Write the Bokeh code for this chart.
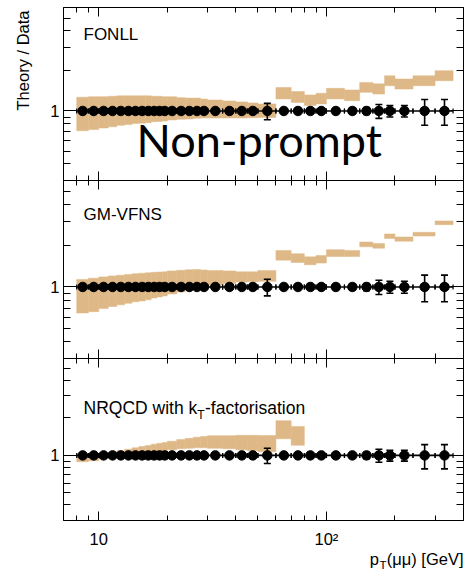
import math
from bokeh.plotting import figure
from bokeh.layouts import column, row
from bokeh.models import Range1d, FixedTicker, LogAxis, Label
from bokeh.embed import file_html
from bokeh.resources import INLINE

# ---------------- data ----------------
bin_lo = [8, 9, 10, 11, 12, 13, 14, 15, 16, 17, 18, 19, 20, 22, 24, 26, 28, 30, 35, 40, 45, 50,
          60, 70, 80, 90, 100, 120, 140, 160, 180, 200, 240, 300]
bin_hi = [9, 10, 11, 12, 13, 14, 15, 16, 17, 18, 19, 20, 22, 24, 26, 28, 30, 35, 40, 45, 50, 60,
          70, 80, 90, 100, 120, 140, 160, 180, 200, 240, 300, 360]
pt_x = [8.5, 9.5, 10.5, 11.5, 12.5, 13.5, 14.5, 15.5, 16.5, 17.5, 18.5, 19.5, 21, 23, 25, 27, 29,
        32.5, 37.5, 42.5, 47.5, 55, 65, 75, 85, 95, 110, 130, 150, 170, 190, 220, 270, 330]
data_ratio = [1.0, 1.0, 1.0, 1.0, 1.0, 1.0, 1.0, 1.0, 1.0, 1.0, 1.0, 1.0, 1.0, 1.0, 1.0, 1.0, 1.0,
              1.0, 1.0, 1.0, 1.0, 1.0, 1.0, 1.0, 1.0, 1.0, 1.0, 1.0, 1.0, 1.0, 1.0, 1.0, 1.0, 1.0]
data_err = [0.02, 0.02, 0.02, 0.02, 0.02, 0.02, 0.02, 0.02, 0.02, 0.02, 0.02, 0.02, 0.02, 0.02,
            0.02, 0.02, 0.02, 0.03, 0.03, 0.03, 0.04, 0.14, 0.03, 0.03, 0.03, 0.03, 0.04, 0.05,
            0.06, 0.12, 0.10, 0.10, 0.22, 0.22]

fonll_hi = [1.27, 1.28, 1.28, 1.29, 1.30, 1.30, 1.30, 1.30, 1.30, 1.29, 1.29, 1.28, 1.28, 1.26,
            1.25, 1.25, 1.23, 1.21, 1.19, 1.17, 1.15, 1.13,
            1.50, 1.40, 1.32, 1.36, 1.48, 1.44, 1.64, 1.60, 1.84, 1.74, 1.84, 2.01]
fonll_lo = [0.71, 0.725, 0.745, 0.76, 0.78, 0.79, 0.805, 0.81, 0.815, 0.83, 0.835, 0.84, 0.855,
            0.865, 0.87, 0.88, 0.885, 0.885, 0.885, 0.885, 0.89, 0.895,
            1.23, 1.16, 1.10, 1.13, 1.23, 1.195, 1.38, 1.34, 1.55, 1.46, 1.55, 1.69]

gm_hi = [1.135, 1.16, 1.185, 1.205, 1.22, 1.235, 1.25, 1.26, 1.27, 1.28, 1.285, 1.29, 1.31, 1.325,
         1.335, 1.34, 1.33, 1.32, 1.31, 1.29, 1.29, 1.32,
         1.85, 1.75, 1.66, 1.70, 1.87, 1.85, 2.13, 2.08, 2.44, 2.32, 2.51, 3.04]
gm_lo = [0.645, 0.66, 0.695, 0.72, 0.74, 0.76, 0.78, 0.79, 0.805, 0.83, 0.845, 0.86, 0.89, 0.92,
         0.95, 0.975, 1.0, 1.03, 1.06, 1.085, 1.09, 1.10,
         1.57, 1.51, 1.455, 1.495, 1.67, 1.67, 1.965, 1.92, 2.26, 2.16, 2.355, 2.855]

kt_hi = [1.02, 1.03, 1.04, 1.06, 1.09, 1.12, 1.15, 1.18, 1.20, 1.23, 1.25, 1.27, 1.30, 1.34,
         1.37, 1.40, 1.42, 1.44, 1.44, 1.45, 1.45, 1.445, 1.90, 1.71]
kt_lo = [0.89, 0.905, 0.94, 0.97, 1.0, 1.02, 1.04, 1.05, 1.06, 1.07, 1.085, 1.095, 1.11, 1.13,
         1.14, 1.15, 1.15, 1.14, 1.13, 1.11, 1.09, 1.07, 1.36, 1.205]

panel_names = ["FONLL", "GM-VFNS", "NRQCD with k"]
x_major = [10, 100]
x_minor = [7, 8, 9, 20, 30, 40, 50, 60, 70, 80, 90, 200, 300, 400]
y_major = [1]
y_minor = [0.3, 0.4, 0.5, 0.6, 0.7, 0.8, 0.9, 2, 3, 4, 5, 6]

# ---------------- layout / style ----------------
XMIN, XMAX = 7, 400
YMIN, YMAX = 0.3, 6
OFFX = 40            # width of the strip holding the y title
LEFT = 63 - OFFX     # left border of the panels
PW = 464 - OFFX
BAND = "#DEB887"
FONT = "Liberation Sans"
FS = "16.5px"


def style_axis(ax, major_in, minor_in, labels=False, line=True):
    ax.major_tick_in = major_in
    ax.major_tick_out = 0
    ax.minor_tick_in = minor_in
    ax.minor_tick_out = 0
    ax.major_tick_line_color = "black"
    ax.minor_tick_line_color = "black"
    ax.major_tick_line_width = 1
    ax.minor_tick_line_width = 1
    ax.axis_line_color = "black" if line else None
    ax.major_label_text_font = FONT
    ax.major_label_text_font_size = FS
    if labels:
        ax.major_label_text_color = "black"
    else:
        ax.major_label_text_color = None
        ax.major_label_standoff = 0


def blank(width, height):
    p = figure(width=width, height=height, x_range=Range1d(0, 1), y_range=Range1d(0, 1),
               x_axis_location=None, y_axis_location=None,
               output_backend="svg", toolbar_location=None)
    p.min_border = 0
    p.outline_line_color = None
    p.grid.visible = False
    p.background_fill_color = "white"
    p.border_fill_color = "white"
    return p


def make_panel(height, border_top, border_bottom, lo, hi, nb, show_xlabels, bottom_line):
    p = figure(width=PW, height=height, x_axis_type="log", y_axis_type="log",
               x_range=Range1d(XMIN, XMAX), y_range=Range1d(YMIN, YMAX),
               output_backend="svg", toolbar_location=None)
    p.min_border = 0
    p.min_border_left = LEFT
    p.min_border_right = 1
    p.min_border_top = border_top
    p.min_border_bottom = border_bottom
    p.outline_line_color = None
    p.grid.visible = False
    p.background_fill_color = "white"
    p.border_fill_color = "white"

    bx = p.xaxis[0]
    bx.ticker = FixedTicker(ticks=x_major, minor_ticks=x_minor)
    style_axis(bx, 9, 5, labels=show_xlabels, line=bottom_line)
    if show_xlabels:
        bx.major_label_overrides = {10: "10", 100: "10²"}
        bx.major_label_standoff = 9

    ly = p.yaxis[0]
    ly.ticker = FixedTicker(ticks=y_major, minor_ticks=y_minor)
    style_axis(ly, 13, 7, labels=True)
    ly.major_label_overrides = {1: "1"}
    ly.major_label_standoff = 4

    tx = LogAxis(ticker=FixedTicker(ticks=x_major, minor_ticks=x_minor))
    style_axis(tx, 9, 5)
    p.add_layout(tx, "above")
    ry = LogAxis(ticker=FixedTicker(ticks=y_major, minor_ticks=y_minor))
    style_axis(ry, 13, 7)
    p.add_layout(ry, "right")

    # theory band
    p.quad(left=bin_lo[:nb], right=bin_hi[:nb], bottom=lo, top=hi,
           fill_color=BAND, line_color=BAND, line_width=0.5)

    # data points with errors
    p.segment(x0=bin_lo, y0=data_ratio, x1=bin_hi, y1=data_ratio,
              line_color="black", line_width=1.6)
    elo = [r * (1 - e) for r, e in zip(data_ratio, data_err)]
    ehi = [r * (1 + e) for r, e in zip(data_ratio, data_err)]
    p.segment(x0=pt_x, y0=elo, x1=pt_x, y1=ehi, line_color="black", line_width=1.6)
    p.scatter(x=pt_x + pt_x, y=elo + ehi, marker="dash", size=7,
              line_color="black", line_width=1.6)
    p.scatter(x=bin_lo + bin_hi, y=data_ratio + data_ratio, marker="dash", angle=math.pi / 2,
              size=5, line_color="black", line_width=1.2)
    p.scatter(x=pt_x, y=data_ratio, marker="circle", size=9.5,
              fill_color="black", line_color="black")
    return p


# panel geometry (page pixels)
T1, H1 = 7, 173
T2, H2 = 180, 178
T3, H3 = 358, 165
B3 = 27                      # room for the x tick labels
T4 = T3 + H3 + B3            # strip with the x-axis title

p1 = make_panel(T1 + H1, T1, 0, fonll_lo, fonll_hi, len(fonll_hi), False, False)
p2 = make_panel(H2, 0, 0, gm_lo, gm_hi, len(gm_hi), False, False)
p3 = make_panel(H3 + B3, 0, B3, kt_lo, kt_hi, len(kt_hi), True, True)
p4 = blank(PW, 572 - T4)
pl = blank(OFFX, 572)


def lab(p, text, px, py, ptop, pleft=OFFX, size="17px", font=FONT, **kw):
    # px, py: page pixel position; ptop/pleft: page offset of this figure's canvas
    p.add_layout(Label(x=px - pleft, y=py - ptop, x_units="canvas", y_units="canvas",
                       text=text, text_font=font, text_font_size=size, text_color="black",
                       **kw))


lab(pl, "Theory / Data", 22, 10, 0, pleft=0, size=FS, angle=math.pi / 2, text_align="right",
    text_baseline="middle")
lab(p1, panel_names[0], 83, 43.3, 0)
lab(p1, "Non-prompt", 136, 166.7, 0, size="45px", font="Lato")
lab(p2, panel_names[1], 83, 223.3, T2)
lab(p3, panel_names[2], 83, 417.3, T3, size="17.5px")
lab(p3, "T", 196.8, 421.3, T3, size="12px")
lab(p3, "-factorisation", 204.5, 417.3, T3, size="17.5px")
lab(p4, "(μμ) [GeV]", 463, 567, T4, size=FS, text_align="right")
lab(p4, "T", 386, 570.5, T4, size="11.5px", text_align="right")
lab(p4, "p", 378.5, 567, T4, size=FS, text_align="right")

layout = row(pl, column(p1, p2, p3, p4))
open("out.html", "w").write(file_html(layout, INLINE))
